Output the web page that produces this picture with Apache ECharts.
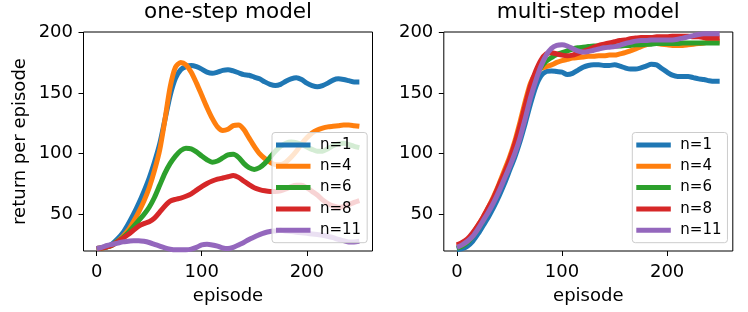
<!DOCTYPE html>
<html>
<head>
<meta charset="utf-8">
<script src="https://cdn.jsdelivr.net/npm/echarts@6/dist/echarts.min.js"></script>
<style>
html,body{margin:0;padding:0;background:#fff;}
#chart{width:748px;height:312px;}
</style>
</head>
<body>
<div id="chart"></div>
<script>
const EPISODES = [0,5,10,15,20,25,30,35,40,45,50,55,60,65,70,75,80,85,90,95,100,105,110,115,120,125,130,135,140,145,150,155,160,165,170,175,180,185,190,195,200,205,210,215,220,225,230,235,240,245,250];
const SERIES_NAMES = ['n=1','n=4','n=6','n=8','n=11'];
const PANEL_TITLES = ['one-step model','multi-step model'];
const X_TICKS = [0,100,200];
const Y_TICKS = [50,100,150,200];

const ONE_N1 = [22,22.5,23.5,26,30,35,42,50,59,69,80,93,108,128,148,162,169,171.5,172.5,171.5,169.5,167,166,167,168.5,169,168,166.5,165,164.5,163,161.5,159,157,156,157,159.5,161.5,162.5,161,158,156,155,156,158,160.5,161.5,161,160,159,159];
const ONE_N4 = [22,22.5,23.5,25,28,32,37,44,52,61,72,86,103,128,155,171,175,173,167,158,148,138,129,122,119,120,123,123.5,120,113,106,100,96,93,91,91,93,97,102,108,113,117,119.5,121,122,122.5,123,123.5,123.5,123,122.5];
const ONE_N6 = [22,22.5,23.5,25,28,31,35,40,45,50,56,64,74,84,92,98,102.5,104.5,104,101.5,98,95,93,94,96.5,99,99.5,97,92,88.5,87,88.5,92,97,102,106,108.5,109.5,109,107.5,105.5,103.5,102,102,104,106.5,108,108.5,107.5,106,105];
const ONE_N8 = [22,22.5,23.5,25,27.5,30.5,33.5,37,40.5,42.5,44,47,52,57,61,62.5,63.5,65,67,70,73,75.5,77.5,79,80,81,82,80.5,77.5,74.5,72,70.5,69.5,69,69,69.5,71,73,74,74,72,69,66,62,59,57,56,56.5,58,60,61.5];
const ONE_N11 = [22,23,24.5,25.5,26.5,27.5,28,28.5,28.5,28,27,25.5,24,22.5,21.5,21,21,21,21.5,23,25,25.5,25,24,22.5,22,23,25,27,29.5,31.5,33.5,35,36,36.5,37,36.5,36,35.5,35,34.5,34,33.5,33,32,31,29.5,28.5,27.5,27.5,28];

const MULTI_N1 = [21,22,24,28,34,41,48,56,65,75,86,97,110,125,141,155,164,167.5,168,167.5,167,165,166,168.5,171,172.5,173,173,172.5,172.5,173,172,170.5,169.5,169.5,170.5,172,173.5,173,170,167,164.5,163.5,163.5,163.5,162.5,161.5,161,160,159.5,159.5];
const MULTI_N4 = [24,26,29,34,41,48,56,65,75,86,97,110,126,143,158,166,170,171.5,173,175,176.5,177.5,178.5,179,179.5,180,180,180.5,180.5,181,181,182,183,184.5,186,188,189.5,190.5,190.5,190,189.5,189,189,189,189.5,190,190.5,191,192,192.5,192.5];
const MULTI_N6 = [22,24,27,32,38,45,53,61,71,81,92,104,118,135,151,163,171,176,179,181.5,183,184.5,186,187,187.5,188,188.5,188.5,188.5,188.5,188.5,188.5,189,189,189.5,189.5,190,190,190.5,190.5,190.5,190.5,190.5,191,191,191,191,191,191,191,191];
const MULTI_N8 = [25,27,30,35,41,48,56,64,74,84,95,108,123,140,156,168,177,182,183,182,181,180.5,181,182.5,184,185.5,187.5,189,190,191,192,193,193.5,194.5,195,195.5,195.5,195.5,196,196,196,196.5,196.5,196.5,196.5,196,196,195.5,195,195,195];
const MULTI_N11 = [23,25,28,32,38,45,52,60,69,79,89,100,113,129,146,160,172,181,186.5,189,189.5,188.5,186.5,184.5,183.5,184,185,186,187,187.5,188,189,190.5,191.5,192.5,193,193,193.5,193.5,193.5,193.5,193.5,194,195,196,197,198,198.5,198.5,198.5,198.5];

const ONE_STEP = [ONE_N1, ONE_N4, ONE_N6, ONE_N8, ONE_N11];
const MULTI_STEP = [MULTI_N1, MULTI_N4, MULTI_N6, MULTI_N8, MULTI_N11];

// styles
const COLORS = ['#1f77b4','#ff7f0e','#2ca02c','#d62728','#9467bd'];
const FONT = 'DejaVu Sans';
const GRIDS = [{left:83.5, top:32, width:289, height:219},{left:443.8, top:32, width:289, height:219}];

function pairs(vals){ return EPISODES.map((e,i)=>[e, vals[i]]); }

const series = [];
[ONE_STEP, MULTI_STEP].forEach((panel, p) => {
  panel.forEach((vals, k) => {
    series.push({
      name: SERIES_NAMES[k], type: 'line', xAxisIndex: p, yAxisIndex: p,
      data: pairs(vals), showSymbol: false, symbol: 'none', smooth: 0.25,
      color: COLORS[k],
      lineStyle: {width: 5, color: COLORS[k]},
      itemStyle: {color: COLORS[k]},
      emphasis: {disabled: true}, animation: false
    });
  });
});

const xAxes = GRIDS.map((g,i)=>({
  type:'value', gridIndex:i, min:-12.5, max:262.5, position:'bottom',
  name:'episode', nameLocation:'middle', nameGap:36,
  nameTextStyle:{fontFamily:FONT, fontSize:18, color:'#000'},
  axisLine:{show:false, onZero:false},
  axisTick:{show:true, inside:false, length:5, lineStyle:{color:'#000', width:1}, customValues:X_TICKS},
  axisLabel:{fontFamily:FONT, fontSize:18, color:'#000', margin:12, customValues:X_TICKS},
  splitLine:{show:false}
}));
const yAxes = GRIDS.map((g,i)=>({
  type:'value', gridIndex:i, min:20, max:200, position:'left',
  name: i===0 ? 'return per episode' : '', nameLocation:'middle', nameGap:54,
  nameTextStyle:{fontFamily:FONT, fontSize:18, color:'#000'},
  axisLine:{show:false, onZero:false},
  axisTick:{show:true, inside:false, length:5, lineStyle:{color:'#000', width:1}, customValues:Y_TICKS},
  axisLabel:{fontFamily:FONT, fontSize:18, color:'#000', margin:10.5, customValues:Y_TICKS},
  splitLine:{show:false}
}));

const legends = GRIDS.map((g,i)=>({
  orient:'vertical', left: g.left + 188.5, top: 132.5,
  data: SERIES_NAMES.slice(),
  icon:'rect', itemWidth:34.5, itemHeight:5, itemGap:5.3,
  padding:[4.5,6,4.5,4],
  backgroundColor:'rgba(255,255,255,0.8)', borderColor:'#cccccc', borderWidth:1, borderRadius:3,
  textStyle:{fontFamily:FONT, fontSize:15, color:'#000', lineHeight:16, padding:[0,0,0,4.5]},
  selectedMode:false
}));

const option = {
  animation:false,
  backgroundColor:'#fff',
  title: PANEL_TITLES.map((t,i)=>({
    text:t, left: GRIDS[i].left + GRIDS[i].width/2, top:1, textAlign:'center', padding:0,
    textStyle:{fontFamily:FONT, fontSize:21.5, fontWeight:'normal', color:'#000'}
  })),
  grid: GRIDS.map(g=>({left:g.left, top:g.top, width:g.width, height:g.height, show:true, borderColor:'#000', borderWidth:1, backgroundColor:'transparent', containLabel:false})),
  xAxis: xAxes,
  yAxis: yAxes,
  legend: legends,
  series: series
};

const chart = echarts.init(document.getElementById('chart'), null, {renderer:'canvas'});
chart.setOption(option);
</script>
</body>
</html>
